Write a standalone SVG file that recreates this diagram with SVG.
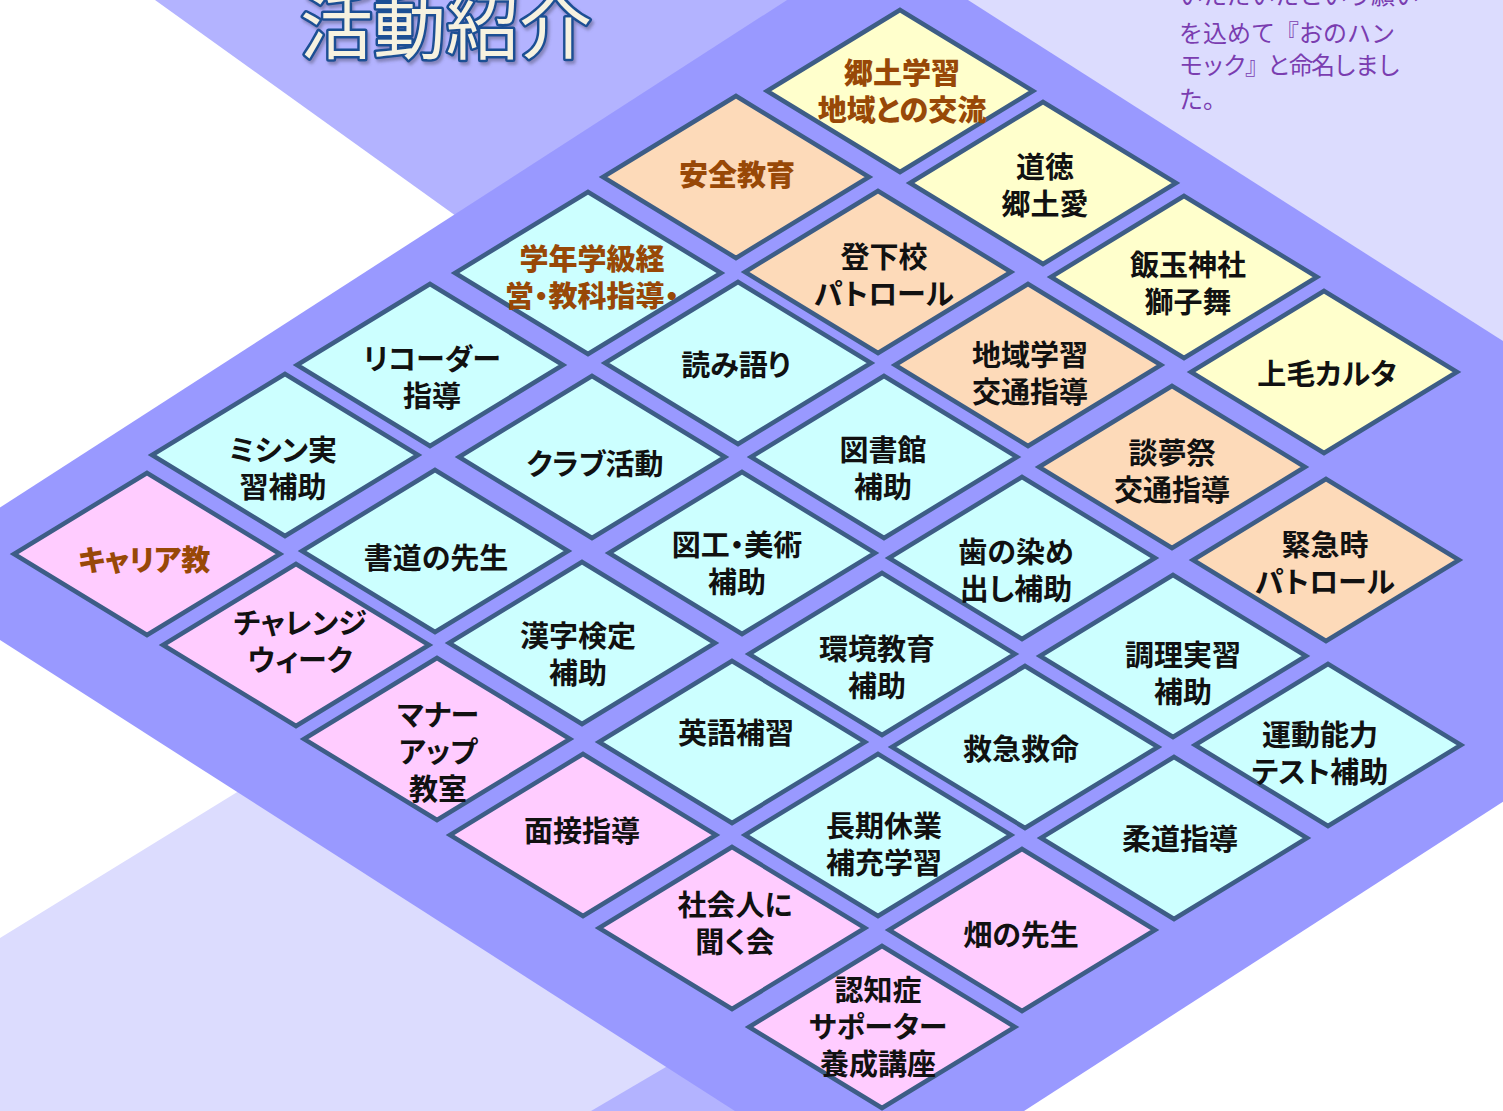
<svg xmlns="http://www.w3.org/2000/svg" xmlns:xlink="http://www.w3.org/1999/xlink" width="1503" height="1111" viewBox="0 0 1503 1111">
<defs>
<style>
.bg-peri{fill:#9999ff}
.bg-med{fill:#b3b3ff}
.bg-light{fill:#dcdcfe}
.d{stroke:#3d5d86;stroke-width:4.5;stroke-linejoin:miter}
.cy{fill:#ccffff}
.pe{fill:#fddab9}
.ye{fill:#ffffcc}
.pk{fill:#ffccff}
.t,.b{font-family:"Noto Sans CJK JP","Noto Sans",sans-serif;font-size:29px;text-anchor:middle;dominant-baseline:central;font-feature-settings:"palt"}
.t{font-weight:600;fill:#111}
.b{font-weight:900;fill:#984807}
.t tspan,.b tspan{dominant-baseline:central}
.title{font-family:"Noto Sans CJK JP","Noto Sans",sans-serif;font-size:73px;font-weight:400;fill:#f6f2e0;stroke:#1c4f94;stroke-width:5;paint-order:stroke;stroke-linejoin:round;text-anchor:middle;dominant-baseline:central}
.note{font-family:"Noto Sans CJK JP","Noto Sans",sans-serif;font-size:24px;font-weight:400;fill:#7a3db0}
.note tspan{dominant-baseline:central}
</style>
<polygon id="dia" points="0,-81 133,0 0,81 -133,0"/>
<filter id="sh" x="-10%" y="-10%" width="120%" height="130%">
<feDropShadow dx="2" dy="3" stdDeviation="1.5" flood-color="#555577" flood-opacity="0.5"/>
</filter>
</defs>

<g id="background">
<rect x="0" y="0" width="1503" height="1111" fill="#ffffff"/>
<polygon class="bg-med" points="155,0 520,262 900,0"/>
<polygon class="bg-light" points="880,0 1503,0 1503,600"/>
<polygon class="bg-light" points="0,938 320,741 1000,1111 0,1111"/>
<polygon class="bg-med" points="591,1111 700,1047 900,1111"/>
<polygon class="bg-peri" points="-103,574 877,-58 1862,570 880,1204"/>
</g>

<g id="title">
<text class="title" x="446" y="21" filter="url(#sh)">活動紹介</text>
</g>

<g id="note">
<text class="note"><tspan x="1179" y="-7">いただいたという願い</tspan><tspan x="1179" y="31">を込めて『おのハン</tspan><tspan x="1179" y="63" letter-spacing="-2">モック』と命名しまし</tspan><tspan x="1179" y="97">た。</tspan></text>
</g>

<g id="connectors"></g>

<g id="nodes">
<g id="n-kyodo"><use xlink:href="#dia" href="#dia" x="900" y="91" class="d ye"/><text class="b"><tspan x="902" y="70.5">郷土学習</tspan><tspan x="902" y="107.5">地域との交流</tspan></text></g>
<g id="n-dotoku"><use xlink:href="#dia" href="#dia" x="1043" y="183" class="d ye"/><text class="t"><tspan x="1045" y="164.5">道徳</tspan><tspan x="1045" y="201.5">郷土愛</tspan></text></g>
<g id="n-iidama"><use xlink:href="#dia" href="#dia" x="1184" y="277" class="d ye"/><text class="t"><tspan x="1188" y="262.5">飯玉神社</tspan><tspan x="1188" y="299.5">獅子舞</tspan></text></g>
<g id="n-jomo"><use xlink:href="#dia" href="#dia" x="1324" y="372" class="d ye"/><text class="t" x="1327" y="372">上毛カルタ</text></g>

<g id="n-anzen"><use xlink:href="#dia" href="#dia" x="736" y="177" class="d pe"/><text class="b" x="737" y="173">安全教育</text></g>
<g id="n-toge"><use xlink:href="#dia" href="#dia" x="878" y="272" class="d pe"/><text class="t"><tspan x="884" y="254.5">登下校</tspan><tspan x="884" y="291.5">パトロール</tspan></text></g>
<g id="n-chiiki"><use xlink:href="#dia" href="#dia" x="1028" y="365" class="d pe"/><text class="t"><tspan x="1030" y="352.5">地域学習</tspan><tspan x="1030" y="389.5">交通指導</tspan></text></g>
<g id="n-tanmu"><use xlink:href="#dia" href="#dia" x="1172" y="467" class="d pe"/><text class="t"><tspan x="1172" y="450.5">談夢祭</tspan><tspan x="1172" y="487.5">交通指導</tspan></text></g>
<g id="n-kinkyu"><use xlink:href="#dia" href="#dia" x="1326" y="560" class="d pe"/><text class="t"><tspan x="1325" y="542.5">緊急時</tspan><tspan x="1325" y="579.5">パトロール</tspan></text></g>

<g id="n-gakunen"><use xlink:href="#dia" href="#dia" x="588" y="273" class="d cy"/><text class="b"><tspan x="592" y="256.5">学年学級経</tspan><tspan x="592" y="293.5">営・教科指導・</tspan></text></g>
<g id="n-yomi"><use xlink:href="#dia" href="#dia" x="738" y="363" class="d cy"/><text class="t" x="736" y="363">読み語り</text></g>
<g id="n-tosho"><use xlink:href="#dia" href="#dia" x="884" y="457" class="d cy"/><text class="t"><tspan x="883" y="447.5">図書館</tspan><tspan x="883" y="484.5">補助</tspan></text></g>
<g id="n-ha"><use xlink:href="#dia" href="#dia" x="1022" y="558" class="d cy"/><text class="t"><tspan x="1016" y="549.5">歯の染め</tspan><tspan x="1016" y="586.5">出し補助</tspan></text></g>
<g id="n-chori"><use xlink:href="#dia" href="#dia" x="1173" y="656" class="d cy"/><text class="t"><tspan x="1183" y="652.5">調理実習</tspan><tspan x="1183" y="689.5">補助</tspan></text></g>
<g id="n-undo"><use xlink:href="#dia" href="#dia" x="1328" y="745" class="d cy"/><text class="t"><tspan x="1320" y="732.5">運動能力</tspan><tspan x="1320" y="769.5">テスト補助</tspan></text></g>

<g id="n-recorder"><use xlink:href="#dia" href="#dia" x="430" y="365" class="d cy"/><text class="t"><tspan x="432" y="356.5">リコーダー</tspan><tspan x="432" y="393.5">指導</tspan></text></g>
<g id="n-club"><use xlink:href="#dia" href="#dia" x="592" y="457" class="d cy"/><text class="t" x="595" y="462">クラブ活動</text></g>
<g id="n-zuko"><use xlink:href="#dia" href="#dia" x="742" y="553" class="d cy"/><text class="t"><tspan x="737" y="542.5">図工・美術</tspan><tspan x="737" y="579.5">補助</tspan></text></g>
<g id="n-kankyo"><use xlink:href="#dia" href="#dia" x="882" y="654" class="d cy"/><text class="t"><tspan x="877" y="646.5">環境教育</tspan><tspan x="877" y="683.5">補助</tspan></text></g>
<g id="n-kyukyu"><use xlink:href="#dia" href="#dia" x="1025" y="747" class="d cy"/><text class="t" x="1021" y="747">救急救命</text></g>
<g id="n-judo"><use xlink:href="#dia" href="#dia" x="1174" y="838" class="d cy"/><text class="t" x="1180" y="837">柔道指導</text></g>

<g id="n-mishin"><use xlink:href="#dia" href="#dia" x="285" y="455" class="d cy"/><text class="t"><tspan x="283" y="447.5">ミシン実</tspan><tspan x="283" y="484.5">習補助</tspan></text></g>
<g id="n-shodo"><use xlink:href="#dia" href="#dia" x="435" y="551" class="d cy"/><text class="t" x="436" y="556">書道の先生</text></g>
<g id="n-kanji"><use xlink:href="#dia" href="#dia" x="582" y="643" class="d cy"/><text class="t"><tspan x="578" y="633.5">漢字検定</tspan><tspan x="578" y="670.5">補助</tspan></text></g>
<g id="n-eigo"><use xlink:href="#dia" href="#dia" x="732" y="742" class="d cy"/><text class="t" x="736" y="731">英語補習</text></g>
<g id="n-choki"><use xlink:href="#dia" href="#dia" x="878" y="835" class="d cy"/><text class="t"><tspan x="884" y="823.5">長期休業</tspan><tspan x="884" y="860.5">補充学習</tspan></text></g>
<g id="n-hata"><use xlink:href="#dia" href="#dia" x="1022" y="930" class="d pk"/><text class="t" x="1021" y="933">畑の先生</text></g>

<g id="n-career"><use xlink:href="#dia" href="#dia" x="147" y="554" class="d pk"/><text class="b" x="144" y="558">キャリア教</text></g>
<g id="n-challenge"><use xlink:href="#dia" href="#dia" x="296" y="645" class="d pk"/><text class="t"><tspan x="300" y="620.5">チャレンジ</tspan><tspan x="300" y="657.5">ウィーク</tspan></text></g>
<g id="n-manner"><use xlink:href="#dia" href="#dia" x="437" y="739" class="d pk"/><text class="t"><tspan x="438" y="713">マナー</tspan><tspan x="438" y="750">アップ</tspan><tspan x="438" y="787">教室</tspan></text></g>
<g id="n-mensetsu"><use xlink:href="#dia" href="#dia" x="583" y="835" class="d pk"/><text class="t" x="582" y="829">面接指導</text></g>
<g id="n-shakai"><use xlink:href="#dia" href="#dia" x="732" y="928" class="d pk"/><text class="t"><tspan x="735" y="902.5">社会人に</tspan><tspan x="735" y="939.5">聞く会</tspan></text></g>
<g id="n-ninchi"><use xlink:href="#dia" href="#dia" x="882" y="1027" class="d pk"/><text class="t"><tspan x="878" y="988">認知症</tspan><tspan x="878" y="1025">サポーター</tspan><tspan x="878" y="1062">養成講座</tspan></text></g>
</g>
</svg>
